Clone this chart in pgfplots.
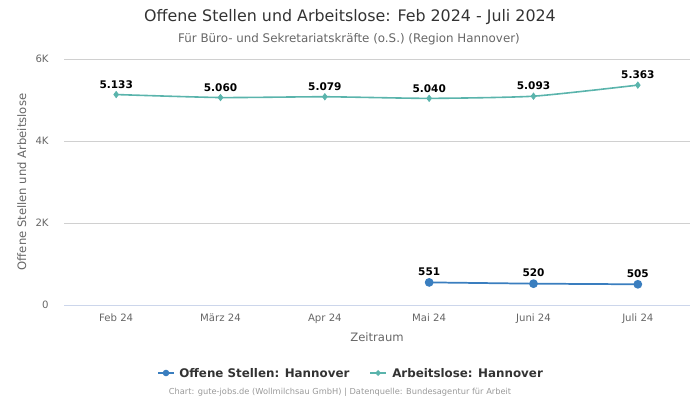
\documentclass[border=0pt]{standalone}
\usepackage{pgfplots}
\pgfplotsset{compat=1.18}
\usepackage{fontspec}
\setmainfont{DejaVu Sans}
\definecolor{teal1}{HTML}{5AB4AC}
\definecolor{blue1}{HTML}{3A7EBF}
\definecolor{gridc}{HTML}{D0D0D0}
\definecolor{zeroc}{HTML}{CCD6EB}
\definecolor{txt}{HTML}{333333}
\definecolor{tick}{HTML}{666666}
\definecolor{foot}{HTML}{999999}
\begin{document}
\begin{tikzpicture}
\begin{scope}[x=0.75pt,y=0.75pt]
\useasboundingbox (0,0) rectangle (700,400);
\node[text=txt,font=\fontsize{11.9pt}{13pt}\selectfont] at (350,383) {Offene Stellen und Arbeitslose: Feb 2024 - Juli 2024};
\node[text=tick,font=\fontsize{8.9pt}{10pt}\selectfont] at (349,361) {Für Büro- und Sekretariatskräfte (o.S.) (Region Hannover)};
\end{scope}
\begin{axis}[
  at={(48pt,71.25pt)}, anchor=south west,
  scale only axis, width=469.5pt, height=184.5pt,
  xmin=-0.5, xmax=5.5, ymin=0, ymax=6000,
  xtick={0,1,2,3,4,5},
  xticklabels={Feb 24,März 24,Apr 24,Mai 24,Juni 24,Juli 24},
  ytick={0,2000,4000,6000},
  yticklabels={0,2K,4K,6K},
  ymajorgrids, grid style={gridc,line width=0.6pt},
  axis x line*=bottom, axis y line*=left,
  y axis line style={draw=none},
  x axis line style={zeroc,line width=0.6pt},
  major tick length=0pt,
  tick label style={text=tick,font=\fontsize{7.6pt}{9pt}\selectfont},
  /pgf/number format/assume math mode=true,
  xticklabel style={yshift=-3pt},
  yticklabel style={xshift=-8pt},
  xlabel={Zeitraum}, xlabel style={text=tick,font=\fontsize{8.7pt}{10pt}\selectfont,yshift=0pt},
  ylabel={Offene Stellen und Arbeitslose}, ylabel style={text=tick,font=\fontsize{8.7pt}{10pt}\selectfont,yshift=0pt},
  clip=false,
  nodes near coords,
  every node near coord/.append style={text=black,font=\bfseries\fontsize{7.9pt}{9pt}\selectfont,yshift=1pt},
  point meta=explicit symbolic,
]
\addplot[teal1,line width=1.2pt,smooth,tension=0.35,mark=diamond*,mark size=2.4pt,mark options={fill=teal1,line width=0.5pt}]
  coordinates {(0,5133)[5.133] (1,5060)[5.060] (2,5079)[5.079] (3,5040)[5.040] (4,5093)[5.093] (5,5363)[5.363]};
\addplot[blue1,line width=1.3pt,mark=*,mark size=2.6pt,mark options={fill=blue1}]
  coordinates {(3,551)[551] (4,520)[520] (5,505)[505]};
\end{axis}
\begin{scope}[x=0.75pt,y=0.75pt]
\draw[blue1,line width=1.5pt] (158,27) -- (174,27);
\fill[blue1] (166,27) circle (3.3);
\node[anchor=west,text=txt,font=\bfseries\fontsize{8.9pt}{10pt}\selectfont,inner sep=0pt] at (179,27) {Offene Stellen: Hannover};
\draw[teal1,line width=1.5pt] (370,27) -- (386,27);
\fill[teal1] (378,30) -- (381,27) -- (378,24) -- (375,27) -- cycle;
\node[anchor=west,text=txt,font=\bfseries\fontsize{8.9pt}{10pt}\selectfont,inner sep=0pt] at (392,27) {Arbeitslose: Hannover};
\node[text=foot,font=\fontsize{6.2pt}{7pt}\selectfont] at (340,8) {Chart: gute-jobs.de (Wollmilchsau GmbH) | Datenquelle: Bundesagentur für Arbeit};
\end{scope}
\end{tikzpicture}
\end{document}
